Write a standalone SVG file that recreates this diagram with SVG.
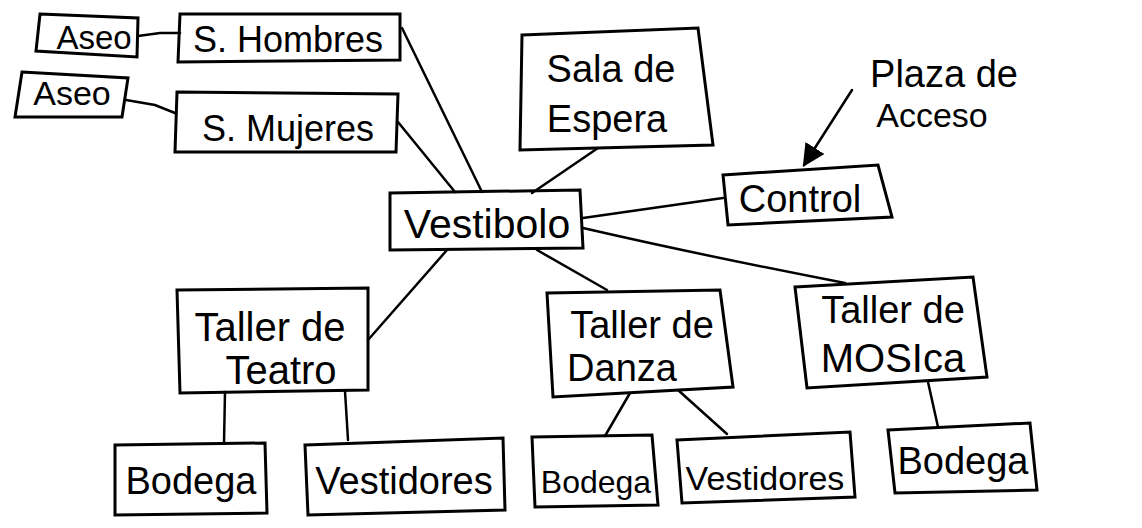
<svg xmlns="http://www.w3.org/2000/svg" width="1142" height="528" viewBox="0 0 1142 528">
<style>
  .box{fill:none;stroke:#000;stroke-width:3;stroke-linejoin:miter}
  .lbl{font-family:"Liberation Sans","DejaVu Sans",sans-serif;fill:#000;text-anchor:middle}
  .con{fill:none;stroke:#000;stroke-width:2.5;stroke-linecap:round}
</style>
<defs>
  <marker id="ah" viewBox="0 0 10 10" refX="9" refY="5" markerWidth="9" markerHeight="10" orient="auto" markerUnits="strokeWidth">
    <path d="M0,0 L10,5 L0,10 z" fill="#000"/>
  </marker>
</defs>
<rect width="1142" height="528" fill="#fff"/>
<g id="connectors">
  <polyline class="con" points="138,36 160,33 180,33"/>
  <polyline class="con" points="126,100 155,105 175,113"/>
  <line class="con" x1="402" y1="28" x2="482" y2="192"/>
  <line class="con" x1="398" y1="122" x2="455" y2="192"/>
  <line class="con" x1="598" y1="148" x2="532" y2="193"/>
  <line class="con" x1="583" y1="218" x2="723" y2="198"/>
  <path class="con" d="M583,228 Q700,255 845,283"/>
  <line class="con" x1="447" y1="250" x2="368" y2="340"/>
  <line class="con" x1="537" y1="250" x2="607" y2="290"/>
  <line class="con" x1="225" y1="392" x2="224" y2="443"/>
  <line class="con" x1="345" y1="391" x2="348" y2="440"/>
  <line class="con" x1="630" y1="393" x2="605" y2="436"/>
  <line class="con" x1="678" y1="390" x2="727" y2="434"/>
  <line class="con" x1="928" y1="382" x2="938" y2="427"/>
  <line class="con" x1="852" y1="90" x2="804" y2="165" marker-end="url(#ah)"/>
</g>
<g id="aseo1"><polygon class="box" points="40,14 138,18 137,57 36,51"/><text class="lbl" x="94" y="49" font-size="33">Aseo</text></g>
<g id="hombres"><polygon class="box" points="180,14 400,14 400,60 178,62"/><text class="lbl" x="288" y="52" font-size="36">S. Hombres</text></g>
<g id="aseo2"><polygon class="box" points="22,72 128,78 122,117 15,117"/><text class="lbl" x="72" y="105" font-size="34">Aseo</text></g>
<g id="mujeres"><polygon class="box" points="177,92 398,94 396,152 175,152"/><text class="lbl" x="288" y="141" font-size="36">S. Mujeres</text></g>
<g id="sala"><polygon class="box" points="522,35 698,28 713,145 520,150"/><text class="lbl" x="611" y="82" font-size="38">Sala de</text><text class="lbl" x="607" y="132" font-size="38">Espera</text></g>
<g id="plaza"><text class="lbl" x="944" y="87" font-size="38">Plaza de</text><text class="lbl" x="932" y="127" font-size="34">Acceso</text></g>
<g id="control"><polygon class="box" points="723,175 878,165 892,217 728,225"/><text class="lbl" x="800" y="212" font-size="38">Control</text></g>
<g id="vestibolo"><polygon class="box" points="390,193 580,190 583,248 390,250"/><text class="lbl" x="487" y="238" font-size="41">Vestibolo</text></g>
<g id="teatro"><polygon class="box" points="177,290 368,288 368,390 180,393"/><text class="lbl" x="270" y="341" font-size="40">Taller de</text><text class="lbl" x="281" y="384" font-size="40">Teatro</text></g>
<g id="danza"><polygon class="box" points="547,293 720,290 733,387 553,397"/><text class="lbl" x="642" y="338" font-size="38">Taller de</text><text class="lbl" x="622" y="381" font-size="38">Danza</text></g>
<g id="musica"><polygon class="box" points="795,287 973,277 987,377 807,388"/><text class="lbl" x="893" y="323" font-size="38">Taller de</text><text class="lbl" x="893" y="372" font-size="40">MOSIca</text></g>
<g id="bodega1"><polygon class="box" points="115,445 265,443 267,513 115,515"/><text class="lbl" x="191" y="494" font-size="38">Bodega</text></g>
<g id="vestidores1"><polygon class="box" points="305,445 503,438 505,510 308,515"/><text class="lbl" x="404" y="494" font-size="38">Vestidores</text></g>
<g id="bodega2"><polygon class="box" points="532,437 652,435 658,505 535,507"/><text class="lbl" x="596" y="493" font-size="32">Bodega</text></g>
<g id="vestidores2"><polygon class="box" points="677,440 850,432 855,497 682,503"/><text class="lbl" x="765" y="490" font-size="34">Vestidores</text></g>
<g id="bodega3"><polygon class="box" points="888,430 1030,423 1037,490 895,493"/><text class="lbl" x="963" y="474" font-size="38">Bodega</text></g>
</svg>
